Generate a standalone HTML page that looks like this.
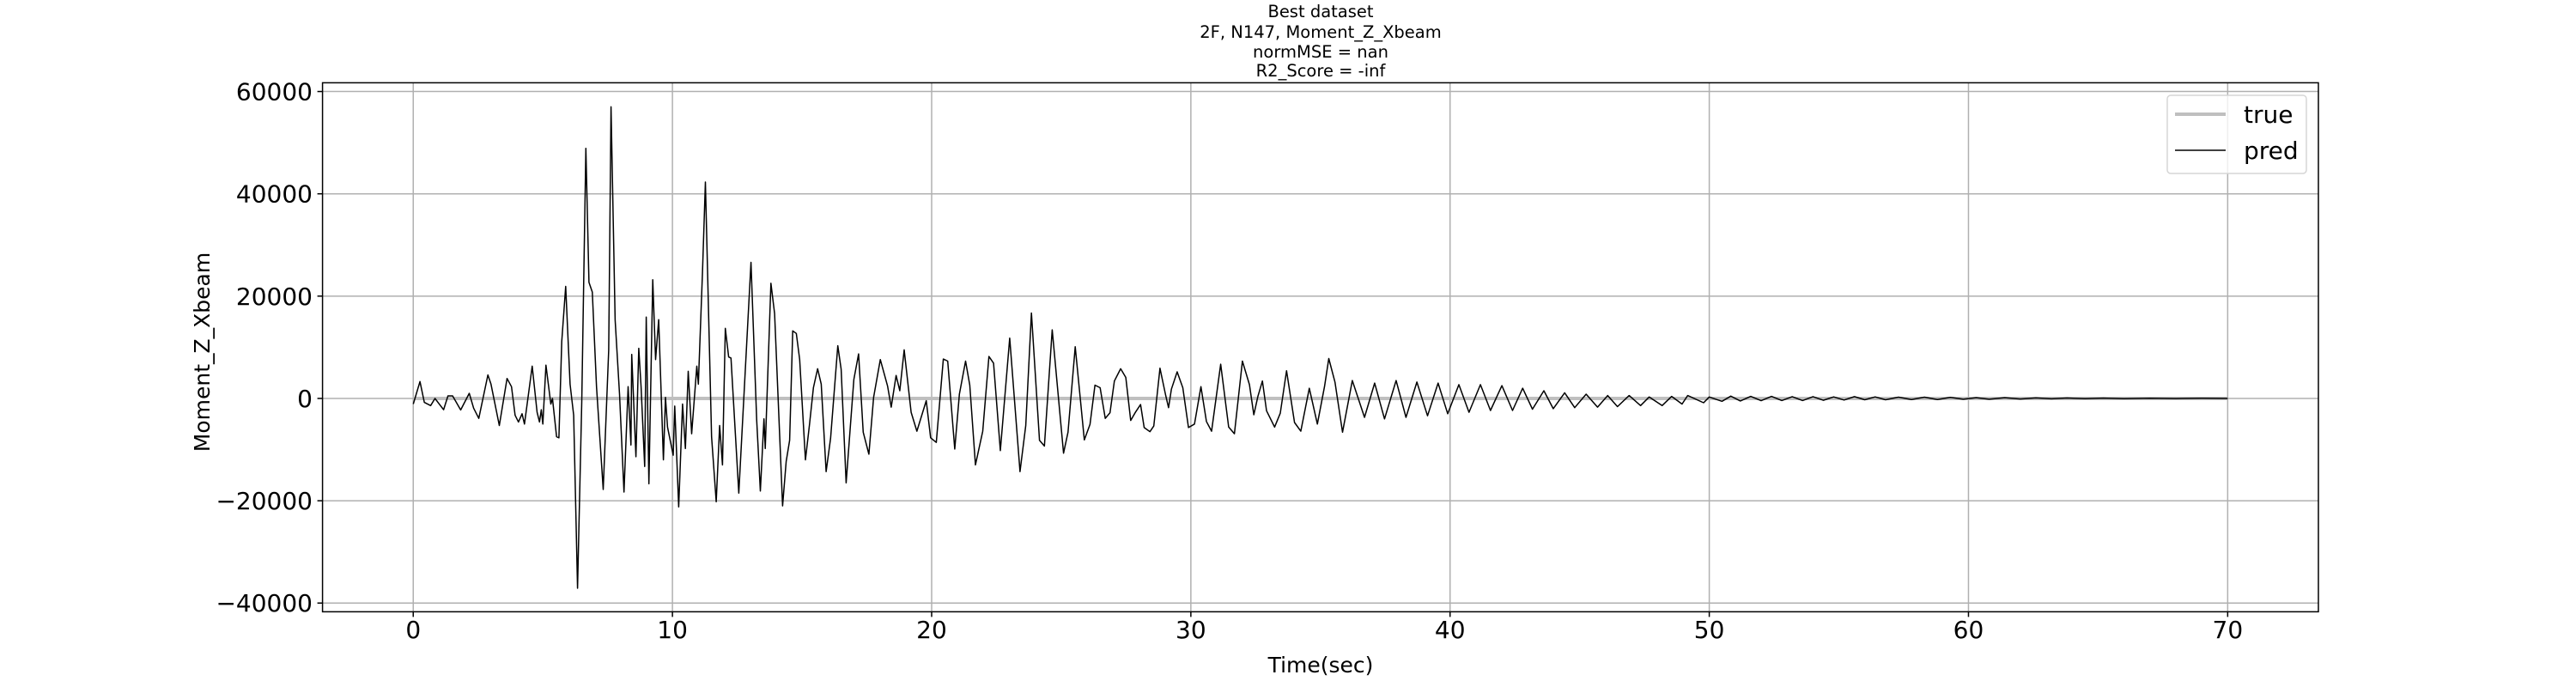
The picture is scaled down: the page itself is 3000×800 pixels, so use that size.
<!DOCTYPE html>
<html><head><meta charset="utf-8"><style>
html,body{margin:0;padding:0;background:#fff;}
svg{display:block;font-family:"DejaVu Sans","Liberation Sans",sans-serif;}
</style></head><body>
<svg id="chart" width="3000" height="800" viewBox="0 0 3000 800" xmlns="http://www.w3.org/2000/svg">
<rect width="3000" height="800" fill="#fff"/>
<g font-size="19.5" text-anchor="middle" fill="#000">
<text x="1538" y="20">Best dataset</text>
<text x="1538" y="44">2F, N147, Moment_Z_Xbeam</text>
<text x="1538" y="67">normMSE = nan</text>
<text x="1538" y="89">R2_Score = -inf</text>
</g>
<g id="grid"></g>
<g id="series"></g>
<rect x="375.6" y="96.4" width="2324.4" height="616" fill="none" stroke="#000" stroke-width="1.5"/>
<g id="ticks"></g>
<text x="1538" y="783" font-size="25" text-anchor="middle">Time(sec)</text>
<text transform="translate(244,410) rotate(-90)" font-size="25" text-anchor="middle">Moment_Z_Xbeam</text>
<g>
<rect x="2524" y="111" width="162" height="91" rx="4" fill="#fff" fill-opacity="0.8" stroke="#d6d6d6" stroke-width="1.5"/>
<line x1="2533" y1="133" x2="2592" y2="133" stroke="#bfbfbf" stroke-width="4"/>
<text x="2613" y="143" font-size="28">true</text>
<line x1="2533" y1="175" x2="2592" y2="175" stroke="#000" stroke-width="1.5"/>
<text x="2613" y="185" font-size="28">pred</text>
</g>
</svg>
<script>
const xTicks = [0,10,20,30,40,50,60,70];
const yTicks = [-40000,-20000,0,20000,40000,60000];
const yTickLabels = ["\u221240000","\u221220000","0","20000","40000","60000"];
const trueTime = [0,70];
const trueValues = [0,0];
const predTime = [0,0.26,0.43,0.67,0.84,1.17,1.34,1.52,1.83,2.16,2.33,2.53,2.88,3.0,3.32,3.62,3.79,3.93,4.06,4.2,4.29,4.59,4.78,4.87,4.94,5.0,5.12,5.31,5.37,5.53,5.62,5.73,5.88,6.05,6.19,6.34,6.5,6.66,6.78,6.91,7.07,7.33,7.54,7.63,7.79,7.96,8.13,8.29,8.4,8.43,8.59,8.7,8.79,8.93,8.99,9.09,9.24,9.35,9.47,9.65,9.73,9.81,10.03,10.09,10.24,10.39,10.5,10.61,10.74,10.94,11.0,11.16,11.27,11.51,11.69,11.82,11.93,12.04,12.17,12.26,12.56,13.03,13.25,13.39,13.53,13.58,13.8,13.94,14.25,14.39,14.52,14.64,14.78,14.91,15.13,15.29,15.44,15.6,15.74,15.93,16.1,16.38,16.51,16.7,17.0,17.18,17.36,17.58,17.76,18.02,18.3,18.44,18.63,18.77,18.94,19.21,19.43,19.79,19.96,20.18,20.45,20.62,20.89,21.07,21.31,21.47,21.69,21.97,22.21,22.39,22.65,23.01,23.41,23.63,23.85,24.16,24.35,24.65,25.09,25.26,25.54,25.89,26.11,26.3,26.5,26.7,26.88,27.05,27.29,27.49,27.68,27.85,28.06,28.2,28.42,28.57,28.81,29.03,29.14,29.25,29.47,29.69,29.91,30.14,30.39,30.6,30.8,31.15,31.46,31.68,31.99,32.26,32.43,32.59,32.76,32.92,33.23,33.45,33.69,34.0,34.24,34.57,34.88,35.16,35.32,35.56,35.85,36.23,36.7,37.09,37.47,37.92,38.3,38.72,39.13,39.54,39.91,40.34,40.73,41.17,41.56,42.0,42.41,42.8,43.18,43.62,43.98,44.42,44.81,45.25,45.69,46.08,46.46,46.91,47.35,47.68,48.18,48.55,48.95,49.17,49.78,50.0,50.49,50.83,51.2,51.6,52.0,52.4,52.8,53.2,53.6,54.0,54.4,54.8,55.2,55.6,56.0,56.4,56.8,57.3,57.8,58.3,58.8,59.3,59.8,60.3,60.8,61.4,62.0,62.6,63.2,63.8,64.5,65.2,66,67,68,69,70];
const predValues = [-1100,3300,-770,-1400,0,-2200,500,500,-2250,1000,-1900,-3900,4600,2800,-5300,3900,2300,-3300,-4600,-3000,-5000,6300,-2700,-4600,-2200,-5000,6500,-1100,0,-7500,-7700,11100,21900,2800,-3300,-37100,-770,48900,22700,20800,2300,-17800,9500,57000,15300,840,-18300,2300,-9100,8600,-11400,9800,2300,-13300,15900,-16700,23200,7600,15400,-12000,200,-5600,-11100,-1500,-21200,-1100,-9800,5300,-6900,6300,2800,24600,42300,-7500,-20200,-5300,-13000,13700,8100,7900,-18500,26600,-4100,-18100,-4000,-9800,22500,16600,-21000,-12300,-8200,13200,12700,7600,-12000,-5000,2100,5800,2800,-14300,-7800,10300,5700,-16500,3700,8700,-6600,-10900,200,7600,2400,-1700,4500,1500,9500,-2700,-6400,-450,-7700,-8600,7700,7300,-9900,840,7300,2600,-13000,-6400,8200,6900,-10200,11800,-14300,-5300,16700,-8200,-9300,13400,-10700,-6600,10100,-8100,-5100,2600,2100,-3900,-2800,3400,5800,4100,-4300,-2800,-1200,-5700,-6500,-5400,5900,560,-1800,1800,5200,2100,-5700,-5000,2300,-4500,-6400,6700,-5600,-6900,7300,2700,-3200,450,3400,-2400,-5600,-2900,5400,-4700,-6400,2000,-5000,2400,7800,3200,-6600,3500,-3700,3000,-4000,3500,-3700,3200,-3400,3000,-3000,2700,-2700,2700,-2350,2500,-2350,2000,-2100,1500,-2000,1100,-1800,840,-1700,560,-1600,560,-1400,280,-1400,400,-1100,560,-840,280,-560,450,-500,400,-450,400,-400,350,-400,350,-350,300,-300,350,-250,300,-250,250,-200,250,-200,200,-150,150,-150,150,-100,100,-80,80,-60,60,-40,40,-20,20,0];

const NS = "http://www.w3.org/2000/svg";
const X0 = 375.6, X1 = 2700, Y0 = 96.4, Y1 = 712.4;
const xMin = -3.5, xMax = 73.5, yMin = -41705, yMax = 61705;
function xs(v){ return X0 + (v - xMin) / (xMax - xMin) * (X1 - X0); }
function ys(v){ return Y1 - (v - yMin) / (yMax - yMin) * (Y1 - Y0); }
function mk(tag, attrs, parent){
  const e = document.createElementNS(NS, tag);
  for (const k in attrs) e.setAttribute(k, attrs[k]);
  parent.appendChild(e);
  return e;
}
const grid = document.getElementById('grid');
const ticks = document.getElementById('ticks');
const series = document.getElementById('series');
xTicks.forEach(t => {
  const x = xs(t);
  const g = mk('line', {x1:x, y1:Y0, x2:x, y2:Y1, stroke:'#b0b0b0', 'stroke-width':1.5}, grid);
  
  
  const tk = mk('line', {x1:x, y1:Y1, x2:x, y2:Y1+6, stroke:'#000', 'stroke-width':1.5}, ticks);
  
  
  const lb = mk('text', {x:x, y:743, 'font-size':28, 'text-anchor':'middle'}, ticks);
  lb.textContent = String(t);
  
  
});
yTicks.forEach((t, i) => {
  const y = ys(t);
  const g = mk('line', {x1:X0, y1:y, x2:X1, y2:y, stroke:'#b0b0b0', 'stroke-width':1.5}, grid);
  
  
  const tk = mk('line', {x1:X0-6, y1:y, x2:X0, y2:y, stroke:'#000', 'stroke-width':1.5}, ticks);
  
  
  const lb = mk('text', {x:364, y:y+10, 'font-size':28, 'text-anchor':'end'}, ticks);
  lb.textContent = yTickLabels[i];
  
  
});
function pts(ts, vs){ return ts.map((t,i) => xs(t).toFixed(1) + ',' + ys(vs[i]).toFixed(1)).join(' '); }
const tl = mk('polyline', {points: pts(trueTime, trueValues), fill:'none', stroke:'#bfbfbf', 'stroke-width':4}, series);


const pl = mk('polyline', {points: pts(predTime, predValues), fill:'none', stroke:'#000', 'stroke-width':1.5, 'stroke-linejoin':'round'}, series);


</script>
</body></html>
